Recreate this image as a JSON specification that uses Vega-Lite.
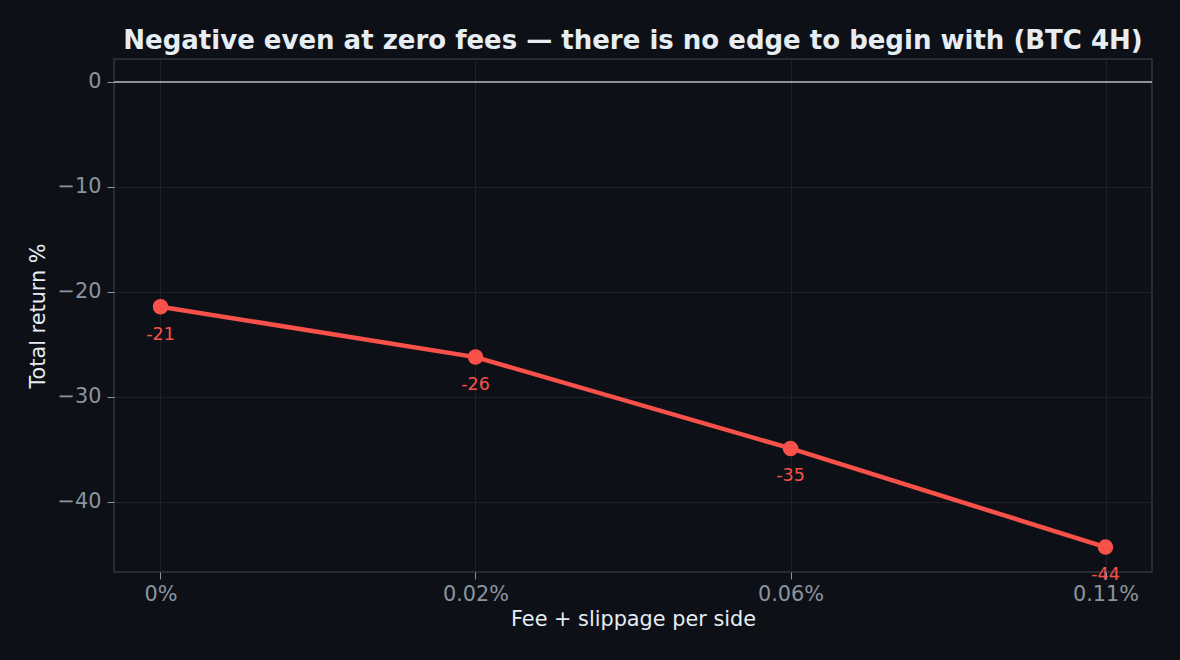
{
  "$schema": "https://vega.github.io/schema/vega-lite/v6.json",
  "width": 1038,
  "height": 513,
  "autosize": {"type": "none"},
  "padding": {"left": 114, "top": 59, "right": 28, "bottom": 88},
  "background": "#0d1117",
  "title": {
    "text": "Negative even at zero fees — there is no edge to begin with (BTC 4H)",
    "font": "DejaVu Sans",
    "fontSize": 26,
    "fontWeight": "bold",
    "color": "#e6edf3",
    "anchor": "middle",
    "offset": 5
  },
  "config": {
    "view": {"fill": "#0d1117", "stroke": "#30363d", "strokeWidth": 1.5},
    "axis": {
      "domain": false,
      "grid": true,
      "gridColor": "#1c212a",
      "gridWidth": 1,
      "tickColor": "#8b949e",
      "tickSize": 7,
      "tickWidth": 1,
      "labelFont": "DejaVu Sans",
      "labelFontSize": 20.8,
      "labelColor": "#8b949e",
      "titleFont": "DejaVu Sans",
      "titleFontSize": 20.8,
      "titleFontWeight": "normal",
      "titleColor": "#e6edf3"
    }
  },
  "data": {
    "values": [
      {"fee": "0%", "ret": -21.4, "label": "-21"},
      {"fee": "0.02%", "ret": -26.2, "label": "-26"},
      {"fee": "0.06%", "ret": -34.9, "label": "-35"},
      {"fee": "0.11%", "ret": -44.3, "label": "-44"}
    ]
  },
  "encoding": {
    "x": {
      "field": "fee",
      "type": "nominal",
      "sort": null,
      "scale": {"type": "point", "padding": 0.1476},
      "axis": {"title": "Fee + slippage per side", "labelAngle": 0, "labelPadding": 5, "titlePadding": 6}
    },
    "y": {
      "field": "ret",
      "type": "quantitative",
      "scale": {"domain": [-46.67, 2.19], "nice": false, "zero": false},
      "axis": {"title": "Total return %", "values": [0, -10, -20, -30, -40], "labelPadding": 6, "titlePadding": 9}
    }
  },
  "layer": [
    {
      "mark": {"type": "rule", "color": "#8b949e", "strokeWidth": 1.5},
      "encoding": {"x": null, "y": {"datum": 0, "type": "quantitative"}}
    },
    {
      "mark": {"type": "line", "color": "#f85149", "strokeWidth": 4.5}
    },
    {
      "mark": {"type": "point", "filled": true, "opacity": 1, "color": "#f85149", "size": 240}
    },
    {
      "mark": {"type": "text", "color": "#f85149", "font": "DejaVu Sans", "fontSize": 17.5, "dy": 28, "baseline": "middle", "clip": false},
      "encoding": {"text": {"field": "label"}}
    }
  ]
}
